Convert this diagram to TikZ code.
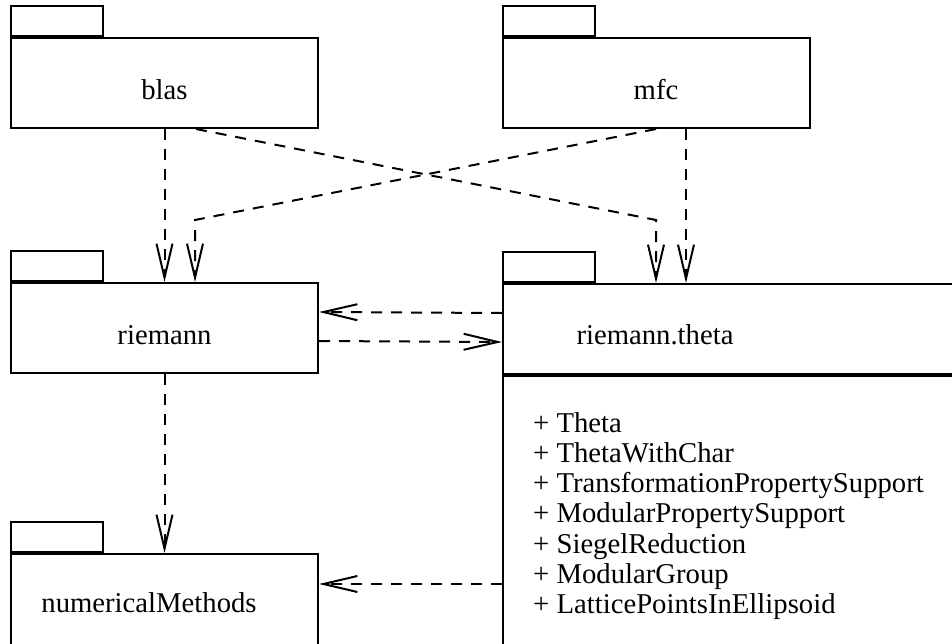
\documentclass[tikz,border=0pt]{standalone}
\usepackage{fontspec}
\setmainfont{Liberation Serif}
\usetikzlibrary{arrows.meta}
\begin{document}
\begin{tikzpicture}[x=1pt,y=-1pt,
  box/.style={draw, line width=2pt, inner sep=0pt, minimum width=307pt, minimum height=90pt},
  tab/.style={draw, line width=2pt, inner sep=0pt, minimum width=92pt, minimum height=30pt, anchor=south west},
  lbl/.style={font=\fontsize{28.7}{30}\selectfont, anchor=base, inner sep=0pt},
  attr/.style={font=\fontsize{28.7}{30}\selectfont, anchor=base west, inner sep=0pt},
  dep/.style={line width=2pt, dash pattern=on 11pt off 9pt, -{Straight Barb[length=34pt,width=16pt,line width=2pt]}}
]
\useasboundingbox (0,0) rectangle (952,643);
\clip (0,0) rectangle (952,643);
\fill[white] (0,0) rectangle (952,643);
% packages
\node[box] (blas) at (164.5,83) {};
\node[tab] (blastab) at (blas.north west) {};
\node[box] (mfc) at (656,83) {};
\node[tab] (mfctab) at (mfc.north west) {};
\node[box] (riemann) at (164.5,328) {};
\node[tab] (riemanntab) at (riemann.north west) {};
\node[box, minimum width=600pt, anchor=north west] (theta) at (502,283) {};
\node[tab] (thetatab) at (theta.north west) {};
\node[draw, line width=2pt, inner sep=0pt, minimum width=600pt, minimum height=400pt, anchor=north west] (attrs) at (theta.south west) {};
\node[box, minimum height=100pt, anchor=north] (num) at (164.5,553) {};
\node[tab] (numtab) at (num.north west) {};
% labels
\node[lbl] (blasl) at (164.5,99) {blas};
\node[lbl] (mfcl) at (656,99) {mfc};
\node[lbl] (riemannl) at (164.5,344) {riemann};
\node[lbl] (thetal) at (655,344) {riemann.theta};
\node[lbl] (numl) at (149,612) {numericalMethods};
\foreach \t [count=\i from 0] in {Theta,ThetaWithChar,TransformationPropertySupport,ModularPropertySupport,SiegelReduction,ModularGroup,LatticePointsInEllipsoid}
  \node[attr] (a\i) at (533,432+30.3*\i) {+ \t};
% connectors
\coordinate (b1) at (195,220);
\coordinate (b2) at (656,220);
\draw[dep] (blas.south) -- (riemann.north);
\draw[dep] (mfc.south) -- (b1) -- (b1 |- riemann.north);
\draw[dep] ([xshift=31.5pt]blas.south) -- (b2) -- (b2 |- theta.north);
\coordinate (m1) at ([xshift=30pt]mfc.south);
\draw[dep] (m1) -- (m1 |- theta.north);
\draw[dep] ([yshift=16pt]theta.west) -- ([yshift=16pt]riemann.east);
\draw[dep] ([yshift=-13pt]riemann.east) -- ([yshift=-13pt]theta.west);
\draw[dep] (riemann.south) -- (num.north);
\coordinate (n1) at ([yshift=20pt]num.east);
\draw[dep] (n1 -| attrs.west) -- (n1);
\end{tikzpicture}
\end{document}
